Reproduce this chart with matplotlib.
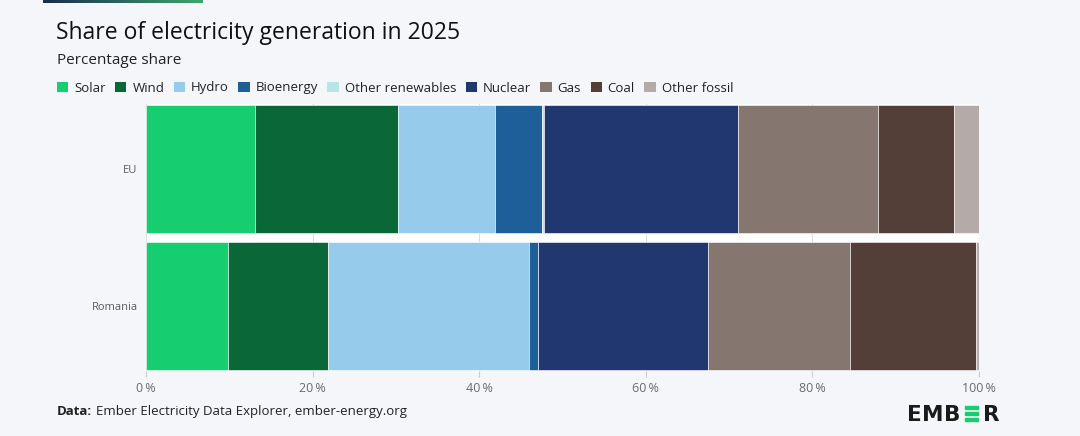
import numpy as np
import matplotlib
matplotlib.use("Agg")
import matplotlib.pyplot as plt
from matplotlib.patches import Patch, Rectangle
from matplotlib.ticker import FuncFormatter

# data (percent share)
regions = ["EU", "Romania"]
sources = ["Solar", "Wind", "Hydro", "Bioenergy", "Other renewables",
           "Nuclear", "Gas", "Coal", "Other fossil"]
eu_share = [13.1, 17.1, 11.7, 5.6, 0.3, 23.3, 16.8, 9.1, 3.0]
ro_share = [9.8, 12.0, 24.2, 1.1, 0.0, 20.4, 17.0, 15.1, 0.4]
xticks = [0, 20, 40, 60, 80, 100]

colors = ["#16cd70", "#0a6738", "#97cbec", "#1e5f99", "#b6e6e6",
          "#20376f", "#85766f", "#543e38", "#b4aba8"]

bg = "#f5f6fa"
plt.rcParams["font.family"] = ["Open Sans", "DejaVu Sans"]

fig = plt.figure(figsize=(10.8, 4.36), dpi=100, facecolor=bg)
ax = fig.add_axes([146/1080, 1-371/436, (979-146)/1080, (371-104)/436])
ax.set_facecolor("white")

shares = np.array([eu_share, ro_share])
left = np.zeros(len(regions))
ypos = np.arange(len(regions))
for j, src in enumerate(sources):
    ax.barh(ypos, shares[:, j], left=left, height=0.94, color=colors[j],
            edgecolor="white", linewidth=0.4, zorder=3)
    left += shares[:, j]

ax.set_xlim(0, 100)
ax.set_ylim(1.48, -0.48)
ax.set_xticks(xticks)
ax.xaxis.set_major_formatter(FuncFormatter(lambda v, p: f"{v:.0f}\u2009%"))
ax.set_yticks(ypos)
ax.set_yticklabels(regions)
ax.grid(axis="x", color="#dddddd", linewidth=0.8, zorder=0)
for s in ax.spines.values():
    s.set_visible(False)
ax.tick_params(axis="x", length=4, color="#cccccc", labelsize=9,
               labelcolor="#6b6b6b", pad=4)
ax.tick_params(axis="y", length=0, labelsize=8, labelcolor="#5a5a5a", pad=6)

# title block
fig.text(56/1080, 1-33/436, "Share of electricity generation in 2025",
         fontsize=16.5, color="#111111", va="center", ha="left", weight="medium")
fig.text(57/1080, 1-60/436, "Percentage share", fontsize=11,
         color="#222222", va="center", ha="left")

handles = [Patch(facecolor=c, edgecolor="none") for c in colors]
fig.legend(handles, sources, loc="center left", bbox_to_anchor=(57/1080, 1-88/436),
           ncol=len(sources), frameon=False, fontsize=9.5, handlelength=0.85,
           handleheight=0.85, handletextpad=0.45, columnspacing=0.72,
           borderpad=0, borderaxespad=0, labelcolor="#222222")

# top gradient accent
gax = fig.add_axes([43/1080, 1-3/436, 160/1080, 3/436])
grad = np.linspace(0, 1, 256).reshape(1, -1)
cmap = matplotlib.colors.LinearSegmentedColormap.from_list("acc", ["#1b2a4d", "#3aa96b"])
gax.imshow(grad, aspect="auto", cmap=cmap)
gax.axis("off")

# footer
fy = 1-411/436
t = fig.text(57/1080, fy, "Data:", fontsize=9.5, weight="bold",
             color="#222222", va="center", ha="left")
fig.canvas.draw()
bb = t.get_window_extent(fig.canvas.get_renderer())
fig.text((bb.x1 + 4)/1080, fy, "Ember Electricity Data Explorer, ember-energy.org",
         fontsize=9.5, color="#222222", va="center", ha="left")

# EMBER logo, letters placed one by one
ly = 1-414.5/436
for ch, lx in [("E", 907), ("M", 922), ("B", 944), ("R", 983)]:
    fig.text(lx/1080, ly, ch, fontsize=15.5, weight="bold", color="#1a1a1a",
             va="center", ha="left", family="DejaVu Sans")
for k in range(3):
    fig.patches.append(Rectangle((965/1080, 1-(408.5 + k*6.3)/436), 13/1080, 2.8/436,
                                 transform=fig.transFigure, color="#16cd70"))

fig.savefig("out.png", dpi=100, facecolor=bg)
